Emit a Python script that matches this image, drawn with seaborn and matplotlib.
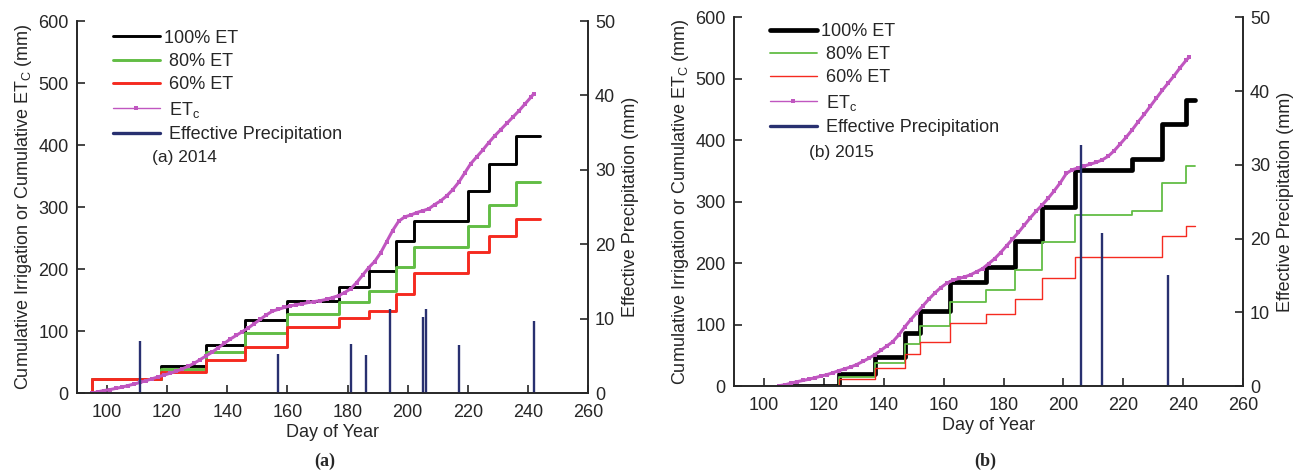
import numpy as np
import pandas as pd
import seaborn as sns
import matplotlib.pyplot as plt
from matplotlib.lines import Line2D

# ---- (a) 2014 ----
irr_days_a = [95, 95, 118, 133, 146, 160, 177, 187, 196, 202, 220, 227, 236, 244]
et100_a = [0, 23, 44, 78, 117, 148, 171, 197, 245, 277, 326, 370, 414, 414]
et80_a = [0, 23, 39, 66, 97, 128, 147, 164, 203, 236, 269, 304, 340, 340]
et60_a = [0, 23, 34, 53, 75, 107, 121, 133, 160, 193, 227, 254, 280, 280]

etc_days_a = [95, 97, 99, 101, 103, 105, 107, 109, 111, 113, 115, 117, 119, 121, 123,
              125, 127, 129, 131, 133, 135, 137, 139, 141, 143, 145, 147, 149, 151, 153,
              155, 157, 159, 161, 163, 165, 167, 169, 171, 173, 175, 177, 179, 181, 183,
              185, 187, 189, 191, 193, 195, 197, 199, 201, 203, 205, 207, 209, 211, 213,
              215, 217, 219, 221, 223, 225, 227, 229, 231, 233, 235, 237, 239, 241, 242]
etc_a = [0, 2, 4, 5.5, 7.5, 9.5, 12, 14.5, 17, 20, 23, 26, 29, 32, 35,
         39, 43, 48, 54, 60, 66, 73, 80, 87, 93, 99, 105, 112, 119, 126,
         132, 135, 138, 140.5, 142.5, 144, 146, 147.5, 149, 151, 154, 157, 162, 168, 178,
         190, 202, 212, 226, 244, 262, 277, 284, 287, 291, 294, 297, 304, 310, 318,
         328, 340, 355, 370, 381, 392, 404, 415, 425, 435, 445, 455, 466, 477, 483]

rain_days_a = [111, 157, 181, 186, 194, 205, 206, 217, 242]
rain_a = [7.0, 5.3, 6.6, 5.1, 11.3, 10.2, 11.3, 6.4, 9.7]

# ---- (b) 2015 ----
irr_days_b = [105, 125, 137, 147, 152, 162, 174, 184, 193, 204, 223, 233, 241, 244]
et100_b = [0, 19, 48, 87, 122, 170, 194, 236, 292, 351, 370, 427, 465, 465]
et80_b = [0, 15, 37, 69, 98, 137, 156, 188, 235, 279, 284, 330, 358, 358]
et60_b = [0, 11, 29, 52, 72, 102, 117, 142, 175, 210, 210, 244, 261, 261]

etc_days_b = [105, 107, 109, 111, 113, 115, 117, 119, 121, 123, 125, 127, 129, 131, 133,
              135, 137, 139, 141, 143, 145, 147, 149, 151, 153, 155, 157, 159, 161, 163,
              165, 167, 169, 171, 173, 175, 177, 179, 181, 183, 185, 187, 189, 191, 193,
              195, 197, 199, 201, 203, 205, 207, 209, 211, 213, 215, 217, 219, 221, 223,
              225, 227, 229, 231, 233, 235, 237, 239, 241, 242]
etc_b = [0.5, 2, 4.5, 7, 9, 11, 13.5, 16, 18.5, 21.5, 25, 28, 31, 35, 40,
         45, 51, 58, 65, 72, 83, 96, 108, 119, 130, 141, 151, 160, 167, 172,
         175, 177.5, 181, 186, 191, 199, 207, 217, 228, 239, 250, 262, 274, 285, 295,
         306, 318, 331, 346, 352, 355, 358, 361, 364, 368, 374, 383, 394, 405, 417,
         430, 442, 455, 468, 481, 493, 505, 518, 530, 535]

rain_days_b = [206, 213, 235]
rain_b = [32.7, 20.7, 15.1]

BLACK, GREEN, RED = '#000000', '#62bd45', '#f52a20'
MAGENTA, NAVY = '#c056c0', '#283070'
FS = 13

sns.set_style('ticks')
plt.rcParams['font.family'] = ['Liberation Sans', 'DejaVu Sans']
plt.rcParams['mathtext.default'] = 'regular'
plt.rcParams['axes.linewidth'] = 1.2

fig = plt.figure(figsize=(13.05, 4.70), dpi=100)
ax_a = fig.add_axes([0.0590, 0.1638, 0.3916, 0.7915])
ax_b = fig.add_axes([0.5625, 0.1787, 0.3900, 0.7845])


def draw_panel(ax, days, s100, s80, s60, etc_days, etc, rdays, rain, widths, tag, leg_y):
    w100, w80, w60 = widths
    sns.lineplot(x=days, y=s100, ax=ax, color=BLACK, lw=w100, drawstyle='steps-post',
                 estimator=None, sort=False)
    sns.lineplot(x=days, y=s80, ax=ax, color=GREEN, lw=w80, drawstyle='steps-post',
                 estimator=None, sort=False)
    sns.lineplot(x=days, y=s60, ax=ax, color=RED, lw=w60, drawstyle='steps-post',
                 estimator=None, sort=False)
    sns.lineplot(x=etc_days, y=etc, ax=ax, color=MAGENTA, lw=2.2, marker='s', ms=3,
                 mec=MAGENTA, mew=0, estimator=None, sort=False)

    ax.set_xlim(90, 260)
    ax.set_ylim(0, 600)
    ax.set_xticks(range(100, 261, 20))
    ax.set_yticks(range(0, 601, 100))
    ax.set_xlabel('Day of Year', fontsize=FS, labelpad=2)
    ax.set_ylabel('Cumulative Irrigation or Cumulative ET$_\\mathregular{C}$ (mm)',
                  fontsize=FS, labelpad=3)
    ax.tick_params(direction='in', length=6, width=1.2, labelsize=FS)
    ax.tick_params(axis='x', pad=8)
    ax.tick_params(axis='y', pad=6)
    ax.spines['top'].set_visible(False)

    ax2 = ax.twinx()
    ax2.vlines(rdays, 0, rain, color=NAVY, lw=1.7)
    ax2.set_ylim(0, 50)
    ax2.set_yticks(range(0, 51, 10))
    ax2.set_ylabel('Effective Precipitation (mm)', fontsize=FS, labelpad=5)
    ax2.tick_params(direction='in', length=6, width=1.2, labelsize=FS, pad=5)
    ax2.spines['top'].set_visible(False)

    handles = [
        Line2D([], [], color=BLACK, lw=w100),
        Line2D([], [], color=GREEN, lw=w80),
        Line2D([], [], color=RED, lw=w60),
        Line2D([], [], color=MAGENTA, lw=1.0, marker='s', ms=3, mew=0),
        Line2D([], [], color=NAVY, lw=2.4),
    ]
    labels = ['100% ET', ' 80% ET', ' 60% ET', ' ET$_\\mathregular{c}$', ' Effective Precipitation']
    ax2.legend(handles, labels, loc='upper left', bbox_to_anchor=(0.07, leg_y),
               frameon=False, borderpad=0, borderaxespad=0, handlelength=2.6,
               handletextpad=0.25, labelspacing=0.35, fontsize=FS)
    ax.text(0.147, 0.632, tag, transform=ax.transAxes, fontsize=12.5, va='center')


draw_panel(ax_a, irr_days_a, et100_a, et80_a, et60_a, etc_days_a, etc_a,
           rain_days_a, rain_a, (2.1, 2.1, 2.1), '(a) 2014', 0.977)
draw_panel(ax_b, irr_days_b, et100_b, et80_b, et60_b, etc_days_b, etc_b,
           rain_days_b, rain_b, (3.4, 1.3, 1.0), '(b) 2015', 0.985)

fig.text(0.249, 0.019, '(a)', ha='center', va='center', fontsize=13,
         fontweight='bold', family='Liberation Serif')
fig.text(0.755, 0.019, '(b)', ha='center', va='center', fontsize=13,
         fontweight='bold', family='Liberation Serif')

fig.savefig('out.png', dpi=100)
